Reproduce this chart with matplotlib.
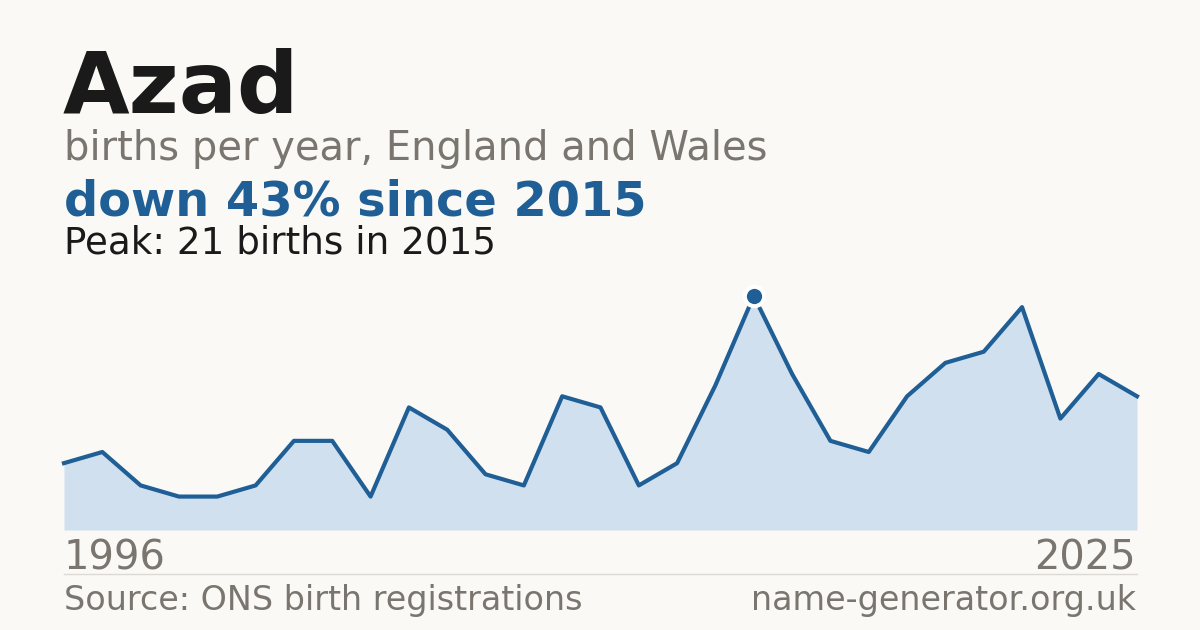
import numpy as np
import matplotlib.pyplot as plt

plt.rcParams['font.family'] = ['DejaVu Sans']

# Births per year (one year has no published count, so 29 points)
births = [6, 7, 4, 3, 3, 4, 8, 8, 3, 11, 9, 5, 4, 12, 11, 4, 6, 13,
          21, 14, 8, 7, 12, 15, 16, 20, 10, 14, 12]
first_year = "1996"
last_year = "2025"
peak_idx = int(np.argmax(births))

BG = "#faf9f5"
BLUE = "#1f5f96"
FILL = "#d0e0ef"
GREY = "#7a756e"
DARK = "#1a1a1a"

W, H = 1200, 630
fig = plt.figure(figsize=(12, 6.3), dpi=100, facecolor=BG)

def fx(px):
    return px / W

def fy(py):
    return 1 - py / H

# chart area: x 64..1137 px, baseline at y=530, peak at y=296
ax = fig.add_axes([fx(64), fy(530), fx(1137) - fx(64), (530 - 296) / H])
ax.set_facecolor(BG)
x = np.arange(len(births))
ax.fill_between(x, births, 0, color=FILL, linewidth=0)
ax.plot(x, births, color=BLUE, linewidth=3, solid_joinstyle="round", clip_on=False)
ax.plot(x[peak_idx], births[peak_idx], "o", color=BLUE, markersize=14,
        markeredgecolor="white", markeredgewidth=3, clip_on=False, zorder=5)
ax.set_xlim(0, len(births) - 1)
ax.set_ylim(0, max(births))
ax.axis("off")

# headings
fig.text(fx(63), fy(113), "Azad", fontsize=62, fontweight="bold", color=DARK, va="baseline")
fig.text(fx(64), fy(160), "births per year, England and Wales", fontsize=28.8,
         color=GREY, va="baseline")
fig.text(fx(64), fy(215), "down 43% since 2015", fontsize=34.5, fontweight="bold",
         color=BLUE, va="baseline")
fig.text(fx(64), fy(253), "Peak: %d births in 2015" % births[peak_idx], fontsize=26.8,
         color=DARK, va="baseline")

# year labels
fig.text(fx(64), fy(570), first_year, fontsize=28.8, color=GREY, va="baseline")
fig.text(fx(1136), fy(570), last_year, fontsize=28.8, color=GREY, va="baseline", ha="right")

# divider and footer
fig.add_artist(plt.Line2D([fx(64), fx(1137)], [fy(574), fy(574)], color="#dddad3", linewidth=1))
fig.text(fx(64), fy(610), "Source: ONS birth registrations", fontsize=24, color=GREY, va="baseline")
fig.text(fx(1136), fy(610), "name-generator.org.uk", fontsize=24, color=GREY,
         va="baseline", ha="right")

fig.savefig("out.png", dpi=100, facecolor=BG)
